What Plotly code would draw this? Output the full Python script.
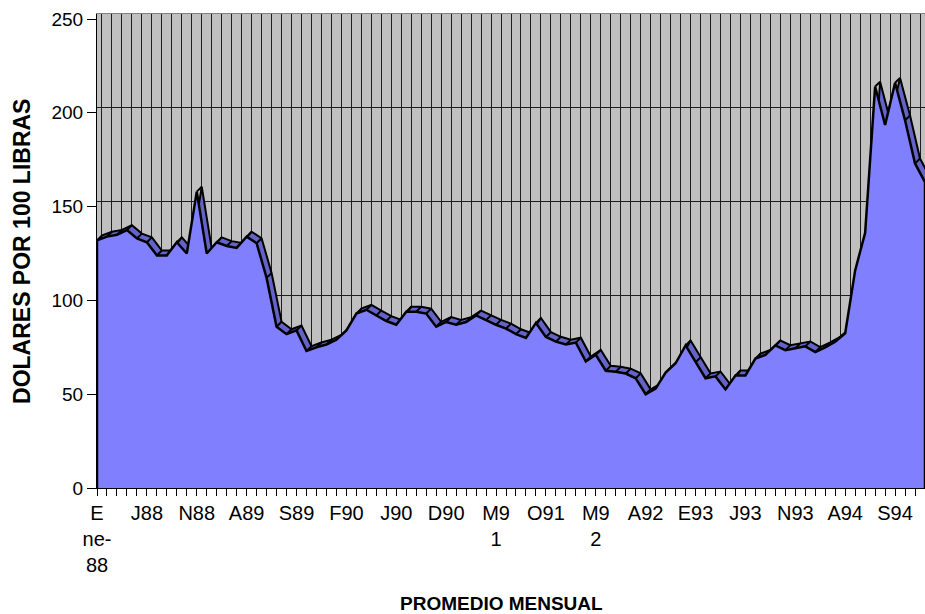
import plotly.graph_objects as go

# ---- data -------------------------------------------------------------
# monthly average, Jan-88 ... Dec-94 (84 months), US$ per 100 lb
precios = [
    132, 134, 135, 137.5, 133, 131, 124, 124, 131, 125,      # E88 - O88
    158, 125, 131, 129, 128, 134, 130.5, 112, 86, 82,         # N88 - A89
    84, 73, 75, 76.5, 79, 84, 93, 95, 92, 89,                 # S89 - J90
    87, 94, 94, 93, 86, 88.5, 87, 88.5, 92, 89.5,             # J90 - A91
    87, 85, 82, 80, 88, 80.5, 78, 76.5, 77.5, 67.5,           # M91 - F92
    71, 62.5, 62, 61, 58.5, 50, 53, 61.5, 66.5, 76,           # M92 - D92
    67, 58.5, 59.5, 52.5, 60, 60, 69, 71, 76, 73.5,           # E93 - O93
    74.5, 75.5, 72.5, 75, 78, 82.5, 116, 136, 214, 193.5,     # N93 - A94
    216, 196, 173, 163,                                       # S94 - D94
]
meses = list(range(len(precios)))

tick_labels = ["E<br>ne-<br>88", "J88", "N88", "A89", "S89", "F90", "J90",
               "D90", "M9<br>1", "O91", "M9<br>2", "A92", "E93", "J93",
               "N93", "A94", "S94"]
label_step = 5
y_ticks = [0, 50, 100, 150, 200, 250]

y_title = "DOLARES POR 100 LIBRAS"
x_title = "PROMEDIO MENSUAL"

# ---- style / 3-D depth --------------------------------------------------
DX = 0.5      # depth shift in months
DY = 2.6      # depth shift in value units
Y_TOP = 252.67
FRONT = "#8080FF"
RIBBON = "#6464C8"
WALL = "#C0C0C0"
FONT = "Arial, Liberation Sans, sans-serif"

ticktext = [tick_labels[i // label_step] if i % label_step == 0 else ""
            for i in meses]

fig = go.Figure()

# back (depth) surface on the shifted axes
fig.add_trace(go.Scatter(
    x=meses, y=precios, xaxis="x", yaxis="y", mode="lines",
    fill="tozeroy", fillcolor=RIBBON,
    line=dict(color="black", width=2), hoverinfo="skip", showlegend=False))

# depth edges joining front and back vertices
ex, ey = [], []
for m, v in zip(meses, precios):
    ex += [m - DX, m, None]
    ey += [v - DY, v, None]
fig.add_trace(go.Scatter(
    x=ex, y=ey, xaxis="x", yaxis="y", mode="lines",
    line=dict(color="black", width=2), hoverinfo="skip", showlegend=False))

# front face
fx = [meses[0]] + meses + [meses[-1]]
fy = [0] + precios + [0]
fig.add_trace(go.Scatter(
    x=fx, y=fy, xaxis="x2", yaxis="y2", mode="lines",
    fill="toself", fillcolor=FRONT,
    line=dict(color="black", width=2.5), showlegend=False))

fig.update_layout(
    width=925, height=614,
    margin=dict(l=97, r=0, t=14, b=126),
    paper_bgcolor="white", plot_bgcolor=WALL,
    font=dict(family=FONT, size=19, color="black"),
    showlegend=False,
    # back wall axes (grid only)
    xaxis=dict(range=[-DX, meses[-1] - DX], tickvals=meses,
               showticklabels=False, ticks="", showgrid=True,
               gridcolor="#1e1e1e", gridwidth=1, zeroline=False,
               showline=True, linecolor="#808080", mirror=True),
    yaxis=dict(range=[-DY, Y_TOP - DY], tickvals=y_ticks,
               showticklabels=False, ticks="", showgrid=True,
               gridcolor="#1e1e1e", gridwidth=1, zeroline=False,
               showline=True, linecolor="#808080", mirror=True),
    # front axes (ticks and labels)
    xaxis2=dict(overlaying="x", anchor="y2", side="bottom",
                range=[0, meses[-1]], tickvals=meses, ticktext=ticktext,
                ticks="outside", ticklen=7, tickcolor="black",
                showgrid=False, zeroline=False, showline=True,
                linecolor="black", linewidth=1, tickangle=0,
                tickfont=dict(family=FONT, size=20)),
    yaxis2=dict(overlaying="y", anchor="x2", side="left",
                range=[0, Y_TOP], tickvals=y_ticks,
                ticks="outside", ticklen=9, tickcolor="black",
                showgrid=False, zeroline=False, showline=True,
                linecolor="black", linewidth=1,
                tickfont=dict(family=FONT, size=19)),
    annotations=[
        dict(text="<b>%s</b>" % x_title, xref="paper", yref="paper",
             x=0.489, y=-0.2445, xanchor="center", yanchor="middle",
             showarrow=False, font=dict(family=FONT, size=19)),
        dict(text="<b>%s</b>" % y_title, xref="paper", yref="paper",
             x=-0.0906, y=0.5, xanchor="center", yanchor="middle",
             textangle=-90, showarrow=False, font=dict(family=FONT, size=23)),
    ],
)

fig.write_html(
    "out.html",
    config={"displayModeBar": False},
    post_script="document.body.style.margin='0';"
                "document.body.style.overflow='hidden';",
)
